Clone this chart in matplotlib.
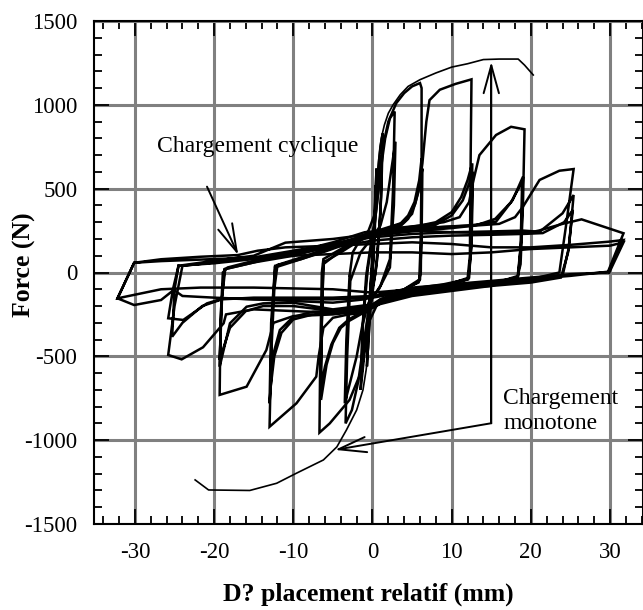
#!/usr/bin/env python3
"""Force / relative displacement: cyclic loading loops against the monotone test."""

import matplotlib

matplotlib.use("Agg")
import matplotlib.pyplot as plt
from matplotlib.ticker import MultipleLocator

# --- monotone test (mm, N) -------------------------------------------------
mono_pos_x = [0.0, 0.2, 0.5, 0.8, 1.1, 1.5, 2.0, 2.6, 3.5, 4.5, 6.0, 8.0, 10.0, 12.0, 14.0, 16.0, 18.4, 19.2, 20.3]
mono_pos_f = [0, 250, 500, 680, 800, 880, 950, 1000, 1060, 1110, 1150, 1190, 1225, 1245, 1270, 1273, 1273, 1237, 1178]
mono_neg_x = [0.0, -0.2, -0.5, -0.8, -1.2, -2.0, -3.3, -4.5, -6.2, -9.6, -12.1, -15.5, -20.7, -22.4]
mono_neg_f = [0, -200, -450, -580, -700, -820, -940, -1040, -1118, -1197, -1257, -1300, -1297, -1237]

# --- cyclic test, one path per amplitude level ------------------------------
amp1_x = [0.0, 0.2, 0.4, 0.5, 0.3, 0.0, -0.3, -0.6, -0.7, -0.5, -0.1, 0.2, 0.4, 0.3, 0.0, -0.3, -0.6, -0.5, -0.1]
amp1_f = [0, 250, 480, 620, 300, 20, -200, -420, -560, -300, 30, 260, 520, 250, -30, -220, -470, -250, 20]

amp2_x = [-0.1, 0.2, 0.6, 1.0, 1.3, 1.1, 0.6, 0.0, -0.6, -1.1, -1.5, -1.3, -0.8, -0.2, 0.3, 0.8, 1.2, 1.0,
          0.4, -0.3, -0.9, -1.4, -1.2, -0.6]
amp2_f = [20, 280, 560, 750, 830, 450, 80, -120, -300, -520, -700, -350, -20, 170, 300, 520, 700, 350,
          0, -160, -380, -620, -300, 20]

amp3_x = [-0.6, 0.0, 0.5, 1.0, 1.6, 2.2, 2.8, 2.6, 2.2, 1.0, 0.0, -0.6, -1.2, -1.8, -2.6, -3.4, -3.2, -2.8,
          -1.5, 0.0, 1.0, 1.8, 2.4, 2.9, 2.7, 2.2, 0.8, -0.5, -1.3, -2.0, -2.8, -3.5, -3.3, -2.9]
amp3_f = [20, 200, 380, 600, 800, 920, 960, 500, 80, -80, -150, -260, -450, -650, -820, -900, -500, -50,
          120, 210, 280, 420, 620, 780, 400, 30, -100, -180, -320, -500, -650, -780, -400, -20]

amp4_x = [-2.9, -2.5, -1.5, -0.5, 0.3, 0.8, 1.3, 2.0, 3.0, 4.0, 5.0, 6.0, 6.2, 6.2, 6.1, 5.8, 4.0, 2.0,
          0.5, -0.5, -1.0, -1.5, -2.9, -5.4, -6.7, -6.6, -6.4, -6.2,
          -4.0, -2.0, 0.0, 2.0, 3.5, 4.5, 5.3, 5.9, 6.2, 6.1, 5.9, 4.0, 2.0, 0.0, -1.5, -3.0, -4.0, -5.0,
          -5.8, -6.5, -6.4, -6.2,
          -4.0, -2.0, 0.0, 2.0, 3.5, 4.5, 5.4, 6.0, 6.3, 6.2, 6.0, 4.0, 2.0, 0.0, -1.5, -3.0, -4.2, -5.2,
          -6.0, -6.6, -6.4, -6.2]
amp4_f = [-20, 120, 200, 250, 350, 550, 750, 900, 1010, 1070, 1110, 1130, 1100, 500, 0, -60, -100, -150,
          -200, -300, -450, -600, -760, -900, -955, -500, 0, 80,
          140, 200, 240, 260, 290, 340, 420, 550, 680, 200, -50, -110, -160, -210, -250, -290, -330, -420,
          -550, -760, -300, 60,
          120, 180, 225, 250, 275, 320, 410, 530, 620, 200, -40, -100, -150, -200, -240, -280, -330, -430,
          -560, -700, -300, 50]

amp5_x = [-6.2, -4.0, -2.0, 0.0, 2.0, 4.0, 5.0, 5.8, 6.3, 6.8, 7.2, 8.5, 10.5, 12.5, 12.4, 12.3, 12.0,
          9.0, 6.0, 3.0, 1.0, 0.0, -1.0, -3.0, -5.0, -6.2, -6.8, -7.1, -9.6, -13.0, -12.8, -12.4, -12.0,
          -9.0, -6.0, -3.0, 0.0, 3.0, 6.0, 8.0, 10.0, 11.2, 12.0, 12.6, 12.5, 12.2,
          9.0, 5.0, 2.0, 0.0, -2.0, -5.0, -7.5, -10.0, -11.7, -12.6, -13.0, -12.8, -12.3,
          -9.0, -6.0, -3.0, 0.0, 3.0, 6.0, 8.0, 10.0, 11.4, 12.2, 12.7, 12.5, 12.1,
          9.0, 5.0, 2.0, 0.0, -2.0, -5.0, -7.5, -10.0, -11.5, -12.4, -12.9, -12.7, -12.3]
amp5_f = [50, 130, 190, 240, 270, 300, 350, 480, 650, 900, 1028, 1090, 1125, 1152, 700, 100, -40,
          -70, -90, -120, -160, -200, -240, -250, -270, -330, -500, -621, -780, -920, -500, -100, 45,
          90, 140, 190, 240, 265, 280, 300, 360, 450, 550, 651, 200, -30,
          -80, -110, -150, -200, -220, -230, -234, -264, -343, -500, -780, -300, 40,
          80, 125, 175, 225, 250, 270, 285, 340, 430, 530, 600, 150, -40,
          -90, -120, -160, -210, -230, -240, -250, -280, -360, -500, -700, -300, 30]

amp6_x = [-12.3, -9.0, -6.0, -3.0, 0.0, 3.0, 6.0, 9.0, 11.0, 12.2, 12.6, 13.5, 15.6, 17.5, 19.2, 19.0,
          18.7, 18.3, 15.0, 10.0, 5.0, 1.0, -1.0, -5.0, -10.0, -12.5, -13.4, -15.9, -19.3, -19.2, -18.9, -18.3,
          -15.0, -10.0, -5.0, 0.0, 5.0, 10.0, 12.7, 15.6, 17.7, 19.0, 18.8, 18.4,
          15.0, 10.0, 5.0, 0.0, -5.0, -10.0, -13.8, -15.9, -18.0, -19.3, -19.1, -18.7,
          -15.0, -10.0, -5.0, 0.0, 5.0, 10.0, 13.0, 15.5, 17.5, 18.9, 18.7, 18.3,
          15.0, 10.0, 5.0, 0.0, -5.0, -10.0, -13.8, -16.0, -18.0, -19.3, -19.0, -18.6]
amp6_f = [30, 80, 130, 180, 235, 260, 280, 300, 330, 420, 520, 700, 820, 869, 854, 400,
          50, -30, -60, -90, -120, -170, -230, -250, -260, -300, -462, -681, -730, -300, 0, 30,
          70, 110, 170, 230, 260, 275, 283, 303, 432, 571, 200, -20,
          -70, -100, -130, -190, -220, -180, -184, -204, -303, -562, -200, 20,
          60, 100, 160, 220, 245, 265, 280, 320, 420, 540, 150, -40,
          -80, -110, -140, -200, -230, -200, -200, -230, -330, -520, -150, 20]

amp7_x = [-18.6, -15.0, -10.0, -5.0, -1.0, 3.0, 8.0, 13.0, 16.0, 18.0, 19.0, 21.1, 23.6, 25.4, 24.5, 23.6,
          20.0, 15.0, 10.0, 5.0, 1.0, -1.0, -5.0, -10.0, -15.0, -18.5, -18.8, -21.4, -24.1, -25.8, -25.0, -24.0,
          -20.0, -15.0, -10.0, -5.0, 0.0, 5.0, 10.0, 15.0, 19.0, 21.1, 24.0, 25.4, 24.8, 24.0,
          20.0, 15.0, 10.0, 5.0, 0.0, -5.0, -10.0, -15.0, -18.8, -20.9, -23.9, -25.8, -25.2, -24.5,
          -20.0, -15.0, -10.0, -5.0, 0.0, 5.0, 10.0, 15.0, 19.0, 21.5, 24.2, 25.3, 24.7, 23.8,
          20.0, 15.0, 10.0, 5.0, 0.0, -5.0, -10.0, -15.0, -19.0, -21.5, -24.0, -25.3, -25.0, -24.5]
amp7_f = [20, 60, 120, 180, 240, 260, 270, 280, 290, 330, 392, 552, 607, 617, 300, 0,
          -40, -70, -100, -120, -160, -220, -240, -230, -220, -250, -303, -446, -518, -492, -200, 40,
          60, 90, 130, 170, 210, 230, 240, 245, 250, 243, 353, 462, 150, -20,
          -50, -70, -90, -110, -150, -160, -160, -160, -154, -184, -283, -273, -100, 40,
          55, 80, 115, 150, 190, 210, 220, 225, 230, 235, 300, 373, 120, -30,
          -60, -80, -95, -115, -140, -150, -150, -150, -160, -200, -300, -383, -100, 40]

amp8_x = [-24.5, -20.0, -15.0, -11.0, -5.0, 0.0, 5.0, 10.0, 15.0, 20.0, 21.0, 24.0, 26.4, 31.7, 29.7,
          25.0, 20.0, 15.0, 10.0, 5.0, 1.0, -1.0, -5.0, -10.0, -15.0, -20.0, -24.0, -25.1, -26.7, -30.1, -32.2,
          -30.1, -26.7, -21.7, -17.0, -14.5, -11.0, -5.0, 0.0, 5.0, 10.0, 15.0, 20.0, 25.0, 29.9, 31.7, 29.8,
          25.0, 20.0, 15.0, 10.0, 5.0, 0.0, -5.0, -10.0, -15.0, -21.7, -26.7, -32.2,
          -30.1, -26.7, -20.0, -15.0, -10.0, -5.0, 0.0, 5.0, 10.0, 15.0, 20.0, 25.0, 30.0, 31.7, 29.9]
amp8_f = [40, 70, 100, 178, 200, 230, 250, 240, 235, 240, 250, 290, 317, 234, 0,
          -10, -30, -50, -70, -90, -130, -160, -180, -170, -160, -150, -140, -104, -164, -194, -154,
          58, 79, 94, 104, 130, 150, 160, 170, 180, 170, 150, 150, 165, 184, 194, 5,
          -20, -40, -60, -80, -100, -120, -100, -95, -90, -90, -100, -154,
          58, 68, 80, 90, 100, 110, 120, 120, 110, 120, 140, 150, 160, 180, 0]

cyclic_paths = [
    (amp1_x, amp1_f), (amp2_x, amp2_f), (amp3_x, amp3_f), (amp4_x, amp4_f),
    (amp5_x, amp5_f), (amp6_x, amp6_f), (amp7_x, amp7_f), (amp8_x, amp8_f),
]


def arrow(ax, tip, tail):
    head = "->,head_length=2.0,head_width=0.55"
    ax.annotate("", xy=tip, xytext=tail, zorder=5,
                arrowprops=dict(arrowstyle=head, lw=1.4, color="black", shrinkA=0, shrinkB=0))


def main():
    plt.rcParams["font.family"] = ["Liberation Serif", "DejaVu Serif"]
    plt.rcParams["axes.unicode_minus"] = False

    fig = plt.figure(figsize=(6.43, 6.10), dpi=100)
    ax = fig.add_axes([94 / 643, 1 - 524 / 610, 549 / 643, 503 / 610])

    for xs, fs in cyclic_paths:
        ax.plot(xs, fs, color="black", lw=1.8, solid_joinstyle="miter", zorder=3)
    ax.plot(mono_pos_x, mono_pos_f, color="black", lw=1.2, zorder=3)
    ax.plot(mono_neg_x, mono_neg_f, color="black", lw=1.2, zorder=3)

    # "cyclic" label and its pointer
    ax.text(-27.2, 750, "Chargement cyclique", fontsize=17, ha="left", va="center")
    arrow(ax, (-16.95, 104), (-20.9, 512))

    # "monotone" label: elbow leader with a head at each end
    ax.plot([15.0, 15.0], [-899, 1200], color="black", lw=1.4, zorder=5)
    arrow(ax, (15.0, 1257), (15.0, -899))
    arrow(ax, (-4.75, -1058), (15.0, -899))
    ax.text(16.5, -826, "Chargement\nmonotone", fontsize=17, ha="left", va="center", linespacing=1.25)

    ax.set_xlim(-35.17, 34.16)
    ax.set_ylim(-1500, 1500)
    ax.xaxis.set_major_locator(MultipleLocator(10))
    ax.xaxis.set_minor_locator(MultipleLocator(2))
    ax.yaxis.set_major_locator(MultipleLocator(500))
    ax.yaxis.set_minor_locator(MultipleLocator(100))
    ax.grid(True, which="major", color="#808080", lw=2.2)
    ax.set_axisbelow(True)

    ax.tick_params(which="both", direction="in", top=True, right=True, width=1.3, colors="black")
    ax.tick_params(which="major", length=11)
    ax.tick_params(which="minor", length=5.5)
    ax.tick_params(axis="x", which="major", pad=13, labelsize=16.5)
    ax.tick_params(axis="y", which="major", pad=12, labelsize=16.5)
    for side in ax.spines.values():
        side.set_linewidth(1.5)

    ax.set_xlabel("D? placement relatif (mm)", fontsize=18.5, fontweight="bold", labelpad=14)
    ax.set_ylabel("Force (N)", fontsize=18.5, fontweight="bold")
    ax.yaxis.set_label_coords(-0.105, 0.515)

    fig.savefig("out.png", dpi=100)
    plt.close(fig)


if __name__ == "__main__":
    main()
